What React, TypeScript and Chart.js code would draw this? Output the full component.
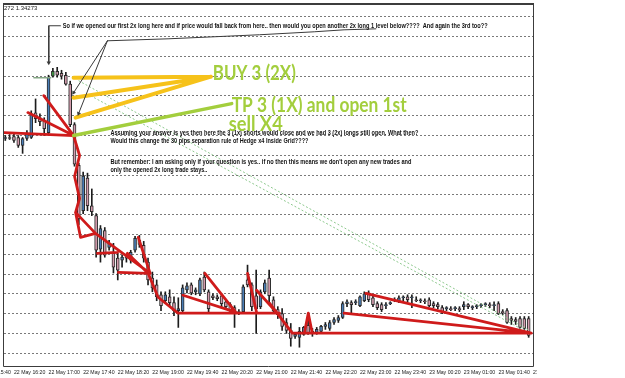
import React, { useEffect, useRef } from "react";
import { Chart, registerables } from "chart.js";

Chart.register(...registerables);

// 5-minute candles, bar index 0 = 22 May 16:20 (first visible bar is 16:10)
const FIRST_BAR = -2;

const OPEN = [
  217, 218, 219, 218, 210, 217, 218, 243, 238, 235,
  223, 280, 285, 283, 281, 272, 231, 190, 144, 177,
  149, 139, 105, 124, 107, 101, 96, 94, 96, 94,
  104, 114, 109, 92, 76, 69, 59, 53, 57, 51,
  43, 43, 64, 69, 62, 60, 77, 62, 58, 57,
  58, 52, 49, 46, 42, 42, 74, 69, 58, 47,
  62, 76, 54, 44, 40, 31, 23, 17, 16, 19,
  28, 22, 21, 22, 27, 25, 31, 33, 36, 50,
  51, 51, 48, 53, 61, 56, 50, 49, 48, 50,
  53, 53, 56, 57, 56, 54, 53, 53, 54, 50,
  49, 46, 45, 45, 45, 45, 47, 49, 46, 47,
  48, 49, 49, 48, 50, 42, 43, 35, 34, 35,
  35, 35,
];
const HIGH = [
  220, 221, 222, 220, 218, 225, 245, 257, 242, 238,
  281, 288, 289, 286, 284, 275, 233, 192, 183, 182,
  166, 141, 129, 127, 114, 111, 101, 99, 100, 104,
  118, 119, 113, 96, 82, 74, 62, 62, 64, 57,
  56, 69, 71, 71, 66, 76, 82, 64, 60, 59,
  60, 54, 51, 48, 44, 69, 89, 71, 84, 64,
  74, 84, 57, 47, 45, 35, 30, 21, 26, 27,
  40, 25, 26, 28, 31, 33, 36, 38, 52, 54,
  53, 54, 58, 62, 63, 58, 52, 51, 51, 52,
  56, 58, 58, 59, 59, 57, 55, 55, 56, 52,
  51, 48, 47, 47, 47, 47, 52, 50, 48, 49,
  50, 51, 51, 52, 52, 44, 45, 37, 36, 37,
  37, 37,
];
const LOW = [
  215, 216, 213, 208, 202, 215, 217, 233, 230, 220,
  221, 279, 279, 277, 271, 229, 189, 130, 141, 144,
  139, 97, 92, 97, 104, 81, 74, 87, 92, 91,
  102, 107, 92, 69, 62, 53, 43, 50, 48, 38,
  26, 41, 61, 59, 59, 58, 62, 41, 54, 53,
  47, 44, 40, 26, 39, 40, 67, 43, 20, 45,
  60, 50, 40, 35, 23, 20, 7, 15, 6, 18,
  19, 17, 19, 20, 24, 23, 29, 31, 35, 47,
  40, 49, 47, 52, 52, 47, 44, 42, 45, 49,
  52, 51, 53, 52, 46, 52, 51, 50, 47, 46,
  45, 40, 43, 43, 43, 42, 44, 45, 44, 45,
  46, 47, 46, 43, 39, 39, 30, 29, 29, 25,
  24, 16,
];
const CLOSE = [
  218, 217, 215, 210, 217, 222, 242, 237, 234, 227,
  279, 285, 281, 280, 272, 231, 191, 136, 179, 149,
  143, 104, 126, 99, 111, 87, 84, 97, 97, 102,
  116, 110, 96, 74, 66, 57, 48, 59, 51, 43,
  45, 66, 68, 61, 64, 74, 64, 45, 56, 55,
  50, 47, 43, 42, 41, 67, 69, 47, 45, 62,
  71, 58, 43, 39, 27, 23, 15, 19, 22, 26,
  20, 20, 24, 27, 29, 31, 34, 36, 50, 52,
  49, 52, 57, 60, 54, 49, 46, 44, 49, 51,
  54, 56, 57, 54, 57, 53, 54, 52, 48, 48,
  47, 42, 46, 44, 46, 44, 49, 47, 47, 48,
  49, 50, 48, 49, 40, 41, 31, 33, 32, 26,
  25, 18,
];
const HIGHLIGHT_BAR = 9; // bar marked green ("opened our first 2x long here")

const TIME_LABELS = [
  "22 May 15:40", "22 May 16:20", "22 May 17:00", "22 May 17:40", "22 May 18:20",
  "22 May 19:00", "22 May 19:40", "22 May 20:20", "22 May 21:00", "22 May 21:40",
  "22 May 22:20", "22 May 23:00", "22 May 23:40", "23 May 00:20", "23 May 01:00",
  "23 May 01:40", "23 May 02:20",
];
const FIRST_LABEL_BAR = -8;
const BARS_PER_LABEL = 8;
const GRID_LEVELS = [0, 20, 40, 60, 80, 100, 120, 140, 160, 180, 200, 220, 240, 260, 280, 300, 320, 340];

// hand-drawn annotation paths, as [bar, level] points
const RED_PATHS = [
  [[-2.3, 223.0], [13.79, 220.0]],
  [[3.22, 243.2], [13.79, 220.0]],
  [[6.9, 260.3], [13.79, 220.0]],
  [[13.79, 220.0], [15.17, 199.8], [14.02, 178.6], [15.17, 156.4], [14.25, 142.3], [15.4, 117.0], [18.85, 121.1]],
  [[14.25, 142.3], [18.85, 121.1]],
  [[18.85, 121.1], [31.49, 80.7]],
  [[19.31, 100.9], [23.91, 101.9]],
  [[24.14, 81.7], [31.03, 80.7]],
  [[26.21, 100.9], [31.03, 80.7]],
  [[28.74, 117.0], [31.49, 80.7]],
  [[31.03, 80.7], [33.33, 56.5], [37.93, 40.4], [61.38, 40.4]],
  [[39.08, 58.5], [51.26, 41.4]],
  [[44.14, 80.7], [51.26, 41.4]],
  [[54.02, 80.7], [56.09, 41.4]],
  [[56.09, 63.6], [60.69, 41.4]],
  [[59.08, 50.5], [64.37, 20.2], [119.6, 20.2]],
  [[67.13, 20.2], [68.05, 40.4], [68.97, 20.2]],
  [[76.32, 40.4], [119.6, 20.2]],
  [[81.38, 60.5], [119.6, 20.2]],
];
const YELLOW_PATHS = [
  [[13.79, 278.5], [45.52, 279.5]],
  [[13.79, 258.3], [45.52, 279.5]],
  [[14.25, 238.1], [45.52, 279.5]],
];
const GREEN_PATHS = [[[13.79, 220.0], [50.34, 252.3]]];
const DOTTED_PATHS = [
  [[14.94, 275.5], [119.1, 23.2]],
  [[17.7, 260.3], [119.1, 20.2]],
];
const POINTER_PATHS = [
  [[10.8, 331.0], [8.05, 331.0], [8.05, 293.6]],
  [[21.61, 315.8], [13.79, 263.3]],
  [[21.61, 315.8], [14.94, 242.2]],
  [[21.61, 315.8], [35.63, 317.8], [56.78, 321.9], [69.43, 324.9], [76.32, 326.9], [83.68, 327.9]],
];
const ENTRY_PATHS = [[[4.6, 278.5], [8.5, 278.5]]];
const ARROW_TIPS = [[8.05, 293.6], [13.79, 263.3], [14.94, 242.2]];
const ARROW_ROTATION = [180, 213, 202];

const NOTES = [
  { text: "So if we opened our first 2x long here and if price would fall back from here.. then would you open another 2x long 1 level below????  And again the 3rd too??", x: 11.26, y: 331.0, width: 425, big: false },
  { text: "Assuming your answer is yes then here the 3 (1x) shorts would close and we had 3 (2x) longs still open. What then?", x: 22.3, y: 223.0, width: 308, big: false },
  { text: "Would this change the 30 pips separation rule of Hedge x4 Inside Grid????", x: 22.3, y: 214.9, width: 198, big: false },
  { text: "But remember: I am asking only if your question is yes.. if no then this means we don't open any new trades and", x: 22.3, y: 192.7, width: 301, big: false },
  { text: "only the opened 2x long trade stays..", x: 22.3, y: 184.6, width: 97, big: false },
  { text: "BUY 3 (2X)", x: 45.98, y: 283.0, width: 83, big: true },
  { text: "TP 3 (1X) and open 1st", x: 50.34, y: 250.7, width: 175, big: true },
  { text: "sell X4", x: 49.66, y: 231.1, width: 54, big: true },
];
const HEADER_TEXT = "272 1.34273";

const BULL = "#4a7db5";
const BEAR = "#d39cad";
const MARK = "#3f9a45";

const toSegments = (paths: number[][][]) =>
  paths.flatMap((p) => [
    ...p.map(([x, y]) => ({ x, y })),
    { x: p[p.length - 1][0], y: null as any },
  ]);

const overlayPlugin = {
  id: "overlay",
  afterDatasetsDraw(chart: any) {
    const { ctx, chartArea, scales } = chart;
    const xs = scales.x;
    const ys = scales.y;
    ctx.save();
    ctx.textBaseline = "middle";
    ctx.textAlign = "left";
    const ordered = [...NOTES.filter((n) => !n.big), ...NOTES.filter((n) => n.big)];
    for (const n of ordered) {
      ctx.font = n.big ? "bold 20px Lato" : "bold 7px 'Liberation Sans'";
      ctx.fillStyle = n.big ? "#a3ce3d" : "#111111";
      const w = ctx.measureText(n.text).width;
      const px = xs.getPixelForValue(n.x);
      const py = ys.getPixelForValue(n.y);
      ctx.save();
      ctx.translate(px, py);
      ctx.scale(n.width / w, 1);
      ctx.fillText(n.text, 0, 0);
      ctx.restore();
    }
    ctx.font = "6px 'Liberation Sans'";
    ctx.fillStyle = "#222";
    ctx.fillText(HEADER_TEXT, chartArea.left, chartArea.top + 4);
    ctx.restore();
  },
  afterDraw(chart: any) {
    const { ctx, chartArea: a } = chart;
    ctx.save();
    ctx.strokeStyle = "#3c3c3c";
    ctx.lineWidth = 2;
    ctx.beginPath();
    ctx.moveTo(a.left - 1, a.top);
    ctx.lineTo(a.right + 1, a.top);
    ctx.stroke();
    ctx.lineWidth = 1;
    ctx.beginPath();
    ctx.moveTo(a.left - 0.5, a.top);
    ctx.lineTo(a.left - 0.5, a.bottom + 0.5);
    ctx.lineTo(a.right + 0.5, a.bottom + 0.5);
    ctx.lineTo(a.right + 0.5, a.top);
    ctx.stroke();
    ctx.restore();
  },
};

export default function App() {
  const ref = useRef<HTMLCanvasElement>(null);
  useEffect(() => {
    document.body.style.margin = "0";
    const bars = OPEN.map((_, i) => FIRST_BAR + i);
    const wickData = bars.map((x, i) => ({ x, y: [LOW[i], HIGH[i]] }));
    const bodyData = bars.map((x, i) => ({
      x,
      y: [Math.min(OPEN[i], CLOSE[i]), Math.max(OPEN[i], CLOSE[i])],
    }));
    const bodyColors = bars.map((x, i) =>
      x === HIGHLIGHT_BAR ? MARK : CLOSE[i] >= OPEN[i] ? BULL : BEAR
    );
    const line = (data: any, color: string, width: number, order: number, extra: any = {}) => ({
      type: "line",
      data,
      borderColor: color,
      borderWidth: width,
      pointRadius: 0,
      fill: false,
      tension: 0,
      spanGaps: false,
      borderCapStyle: "round",
      borderJoinStyle: "round",
      order,
      ...extra,
    });

    const chart = new Chart(ref.current!, {
      type: "bar",
      data: {
        datasets: [
          {
            type: "bar",
            data: wickData,
            backgroundColor: "#1c1c1c",
            barThickness: 1,
            grouped: false,
            borderWidth: 0,
            order: 10,
          } as any,
          {
            type: "bar",
            data: bodyData,
            backgroundColor: bodyColors,
            borderColor: "#2a2a2a",
            borderWidth: 1,
            borderSkipped: false,
            barThickness: 3,
            minBarLength: 1,
            grouped: false,
            order: 9,
          } as any,
          line(toSegments(DOTTED_PATHS), "#8ec98e", 1, 8, { borderDash: [2, 2], borderCapStyle: "butt" }),
          line(toSegments(RED_PATHS), "#cf1b1b", 2.8, 7),
          line(toSegments(YELLOW_PATHS), "#f6c21a", 4, 6),
          line(toSegments(GREEN_PATHS), "#a3ce3d", 3.5, 5),
          line(toSegments(ENTRY_PATHS), "#86a886", 1.5, 5),
          line(toSegments(POINTER_PATHS), "#3a3a3a", 1, 4),
          {
            type: "line",
            data: ARROW_TIPS.map(([x, y]) => ({ x, y })),
            showLine: false,
            pointStyle: "triangle",
            pointRadius: 2.5,
            pointRotation: ARROW_ROTATION,
            pointBackgroundColor: "#3a3a3a",
            pointBorderColor: "#3a3a3a",
            pointBorderWidth: 0,
            order: 3,
          } as any,
        ] as any,
      },
      options: {
        animation: false,
        responsive: false,
        devicePixelRatio: 1,
        layout: { padding: { left: 3, top: 3, right: 2, bottom: 0 } },
        plugins: { legend: { display: false }, tooltip: { enabled: false } },
        scales: {
          x: {
            type: "linear",
            min: -2.3,
            max: 120,
            offset: false,
            grid: { display: false },
            border: { display: false },
            ticks: {
              autoSkip: false,
              maxRotation: 0,
              minRotation: 0,
              align: "start",
              padding: -5,
              color: "#1a1a1a",
              font: { family: "'Liberation Sans'", size: 5.2 },
              callback: (v: any) =>
                TIME_LABELS[Math.round((Number(v) - FIRST_LABEL_BAR) / BARS_PER_LABEL)] ?? "",
            },
            afterBuildTicks: (s: any) => {
              s.ticks = TIME_LABELS.map((_, i) => ({ value: FIRST_LABEL_BAR + i * BARS_PER_LABEL }));
            },
            afterFit: (s: any) => {
              s.height = 12;
              s.paddingLeft = 0;
              s.paddingRight = 0;
            },
          },
          y: {
            type: "linear",
            min: -13,
            max: 353,
            ticks: { display: false },
            grid: { color: "#7a7a7a", lineWidth: 1, drawTicks: false },
            border: { display: false, dash: [2, 2] },
            afterBuildTicks: (s: any) => {
              s.ticks = GRID_LEVELS.map((value) => ({ value }));
            },
            afterFit: (s: any) => {
              s.width = 0;
            },
          },
        },
      } as any,
      plugins: [overlayPlugin as any],
    });
    return () => chart.destroy();
  }, []);

  return (
    <div style={{ position: "absolute", left: 0, top: 0, width: 625, height: 378, background: "#fff" }}>
      <canvas ref={ref} width={537} height={378} style={{ display: "block", width: 537, height: 378 }} />
    </div>
  );
}
